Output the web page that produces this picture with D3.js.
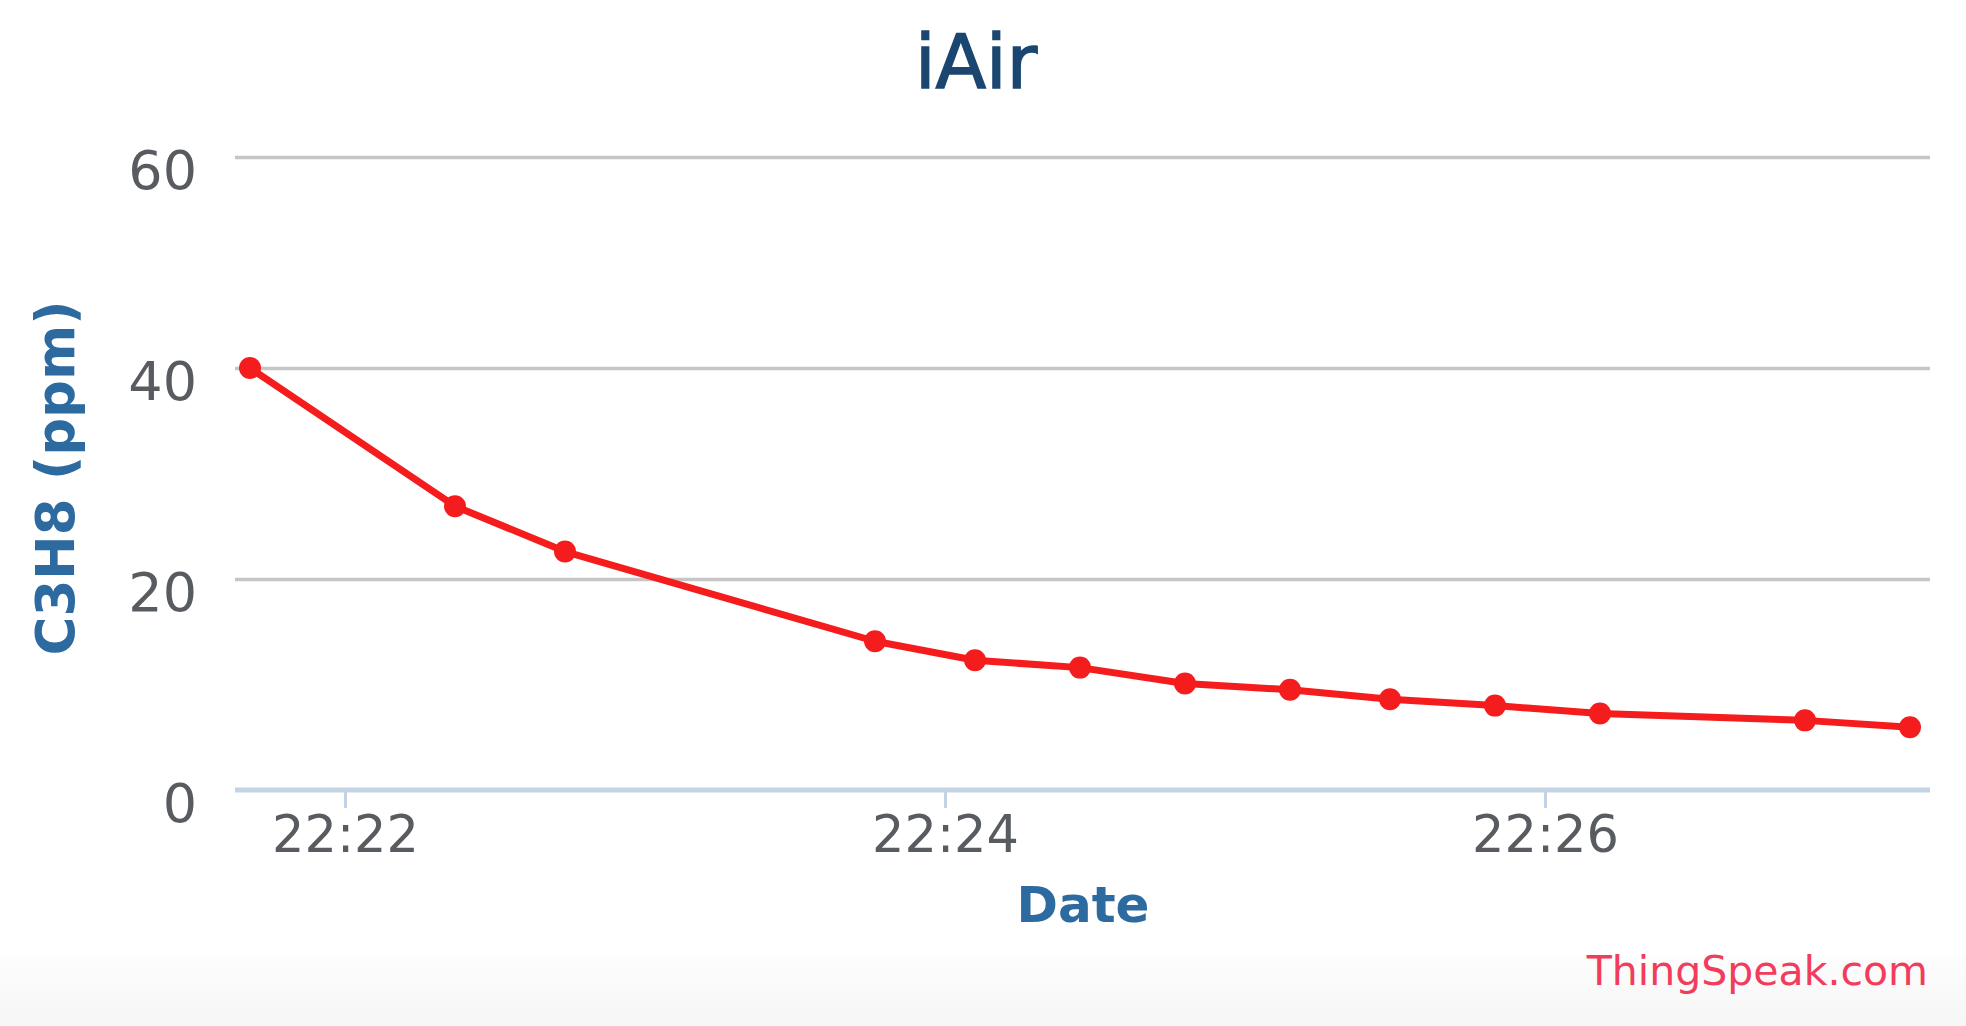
<!DOCTYPE html>
<html>
<head>
<meta charset="utf-8">
<script src="https://cdn.jsdelivr.net/npm/d3@7"></script>
<style>
  html, body { margin: 0; padding: 0; background: #ffffff; }
  svg { display: block; }
</style>
</head>
<body>
<svg id="chart" width="1966" height="1026"></svg>
<script>
// ---- data ----
const times = ["22:21:41","22:22:22","22:22:44","22:23:46","22:24:06","22:24:27","22:24:48",
               "22:25:09","22:25:29","22:25:50","22:26:11","22:26:52","22:27:13"];
const values = [40.0, 26.9, 22.6, 14.1, 12.3, 11.6, 10.1, 9.5, 8.6, 8.0, 7.25, 6.6, 5.95];
const xTickLabels = ["22:22", "22:24", "22:26"];
const yTicks = [0, 20, 40, 60];
const xDomain = ["22:21:38", "22:27:17"];
const yDomain = [0, 60];
const titleText = "iAir";
const yTitle = "C3H8 (ppm)";
const xTitle = "Date";
const credit = "ThingSpeak.com";

// ---- layout ----
const W = 1966, H = 1026;
const plot = { left: 235, right: 1930, top: 157, bottom: 790 };
const parse = d3.timeParse("%H:%M:%S");
const parseHM = d3.timeParse("%H:%M");
const fmt = d3.timeFormat("%H:%M");

const svg = d3.select("#chart");
const font = "'DejaVu Sans', Verdana, sans-serif";

// bottom light band
const defs = svg.append("defs");
const grad = defs.append("linearGradient").attr("id", "bg").attr("x1", 0).attr("y1", 0).attr("x2", 0).attr("y2", 1);
grad.append("stop").attr("offset", "0%").attr("stop-color", "#fdfdfd");
grad.append("stop").attr("offset", "100%").attr("stop-color", "#f6f6f6");
svg.append("rect").attr("x", 0).attr("y", 955).attr("width", W).attr("height", H - 955).attr("fill", "url(#bg)");

const x = d3.scaleTime()
  .domain(xDomain.map(parse))
  .range([plot.left, plot.right]);
const y = d3.scaleLinear()
  .domain(yDomain)
  .range([plot.bottom, plot.top]);

// gridlines + y labels
const yAxis = d3.axisLeft(y)
  .tickValues(yTicks)
  .tickSize(-(plot.right - plot.left))
  .tickPadding(38)
  .tickFormat(d3.format("d"));
const gy = svg.append("g").attr("transform", `translate(${plot.left},0)`).call(yAxis);
gy.select(".domain").remove();
gy.selectAll(".tick line")
  .attr("stroke", "#c6c6c6").attr("stroke-width", 3.5)
  .filter(d => d === 0).attr("stroke", "none");
gy.selectAll(".tick text")
  .attr("font-family", font).attr("font-size", 54).attr("fill", "#585c60")
  .attr("dy", null).attr("y", 31);

// x axis
const xAxis = d3.axisBottom(x)
  .tickValues(xTickLabels.map(s => parseHM(s)))
  .tickSize(18)
  .tickPadding(6)
  .tickFormat(fmt);
const gx = svg.append("g").attr("transform", `translate(0,${plot.bottom})`).call(xAxis);
gx.select(".domain").attr("d", `M${plot.left},0H${plot.right}`)
  .attr("stroke", "#c3d3e3").attr("stroke-width", 5);
gx.selectAll(".tick line").attr("stroke", "#c3d3e3").attr("stroke-width", 3);
gx.selectAll(".tick text")
  .attr("font-family", font).attr("font-size", 51).attr("fill", "#585c60")
  .attr("dy", null).attr("y", 62);

// line + markers
const data = times.map((t, i) => ({ t: parse(t), v: values[i] }));
const line = d3.line().x(d => x(d.t)).y(d => y(d.v));
svg.append("path").datum(data)
  .attr("d", line)
  .attr("fill", "none")
  .attr("stroke", "#f41c1c")
  .attr("stroke-width", 7)
  .attr("stroke-linejoin", "round");
svg.append("g").selectAll("circle").data(data).join("circle")
  .attr("cx", d => x(d.t)).attr("cy", d => y(d.v))
  .attr("r", 11).attr("fill", "#f41c1c");

// title
svg.append("text").text(titleText)
  .attr("x", 976).attr("y", 88)
  .attr("text-anchor", "middle")
  .attr("font-family", font).attr("font-size", 74)
  .attr("fill", "#1a4670")
  .attr("stroke", "#1a4670").attr("stroke-width", 1.5);

// axis titles
svg.append("text").text(yTitle)
  .attr("transform", `translate(74,478) rotate(-90)`)
  .attr("text-anchor", "middle")
  .attr("font-family", font).attr("font-size", 53).attr("font-weight", "bold")
  .attr("fill", "#2c6aa0");
svg.append("text").text(xTitle)
  .attr("x", 1083).attr("y", 922)
  .attr("text-anchor", "middle")
  .attr("font-family", font).attr("font-size", 50).attr("font-weight", "bold")
  .attr("fill", "#2c6aa0");

// credit
svg.append("text").text(credit)
  .attr("x", 1928).attr("y", 985)
  .attr("text-anchor", "end")
  .attr("font-family", font).attr("font-size", 41)
  .attr("fill", "#f23c5c");
</script>
</body>
</html>
